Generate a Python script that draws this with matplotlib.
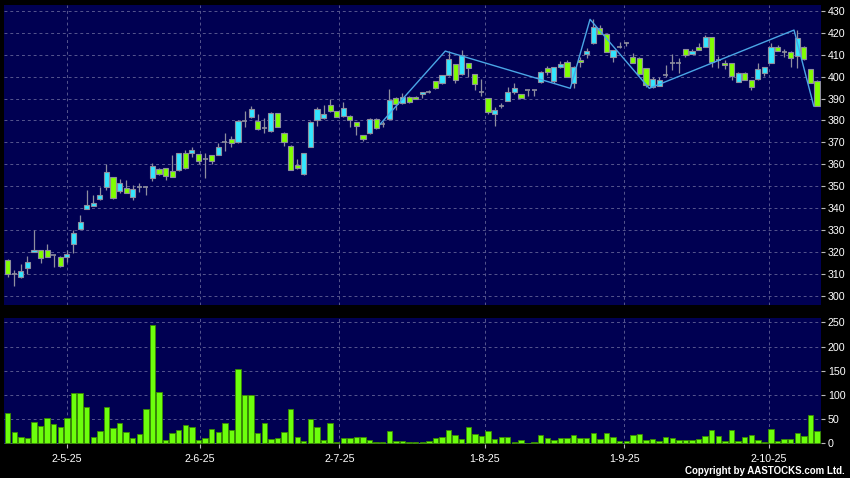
import matplotlib
matplotlib.use("Agg")
import matplotlib.pyplot as plt
import numpy as np

plt.rcParams['font.family'] = ['Liberation Sans', 'DejaVu Sans']

# ---------------- data ----------------
opens = [316.3, 309.7, 308.4, 312.8, 320.0, 320.9, 320.9, 318.4, 317.8, 317.5,
         323.4, 330.6, 339.7, 341.1, 344.3, 349.8, 354.1, 347.9, 349.4, 345.2,
         349.5, 349.5, 353.6, 357.9, 358.2, 357.1, 357.4, 365.0, 365.0, 364.6,
         362.3, 364.1, 364.4, 370.0, 371.4, 370.0, 379.9, 381.7, 379.9, 376.4,
         375.0, 383.3, 374.4, 368.5, 359.7, 355.4, 368.0, 380.2, 381.0, 386.9,
         384.2, 381.9, 382.2, 379.3, 373.2, 374.2, 380.8, 378.3, 380.5, 390.4,
         387.8, 390.9, 390.9, 392.0, 393.2, 397.9, 397.0, 400.6, 405.7, 401.2,
         406.1, 401.1, 393.2, 390.1, 382.8, 386.8, 388.9, 393.2, 392.0, 393.9,
         393.9, 397.8, 404.1, 398.2, 404.6, 406.9, 397.0, 407.5, 410.4, 415.3,
         422.1, 419.4, 409.1, 413.4, 415.2, 409.1, 408.7, 403.8, 395.4, 395.8,
         400.6, 406.1, 406.1, 412.5, 410.4, 413.4, 413.7, 418.0, 407.6, 406.1,
         406.1, 397.7, 401.8, 398.5, 398.8, 401.8, 406.4, 413.4, 411.4, 411.4,
         409.5, 413.7, 403.4, 398.2]
highs = [316.6, 311.7, 314.5, 318.1, 330.0, 321.0, 323.6, 318.6, 318.0, 320.9,
         330.0, 336.9, 348.3, 346.0, 349.8, 360.1, 354.3, 353.1, 352.8, 350.7,
         351.6, 350.0, 360.4, 358.5, 358.5, 364.2, 365.2, 366.3, 368.0, 364.8,
         365.0, 364.3, 369.9, 374.4, 372.9, 380.1, 384.3, 386.6, 383.0, 381.0,
         383.8, 383.5, 374.6, 368.7, 362.3, 365.2, 379.7, 386.0, 387.0, 389.8,
         384.4, 388.6, 382.4, 379.5, 373.4, 381.0, 381.0, 379.8, 394.2, 390.6,
         392.4, 391.1, 391.0, 393.2, 394.0, 398.1, 400.8, 411.7, 405.9, 412.2,
         406.3, 401.3, 398.8, 390.5, 386.3, 388.1, 395.2, 397.3, 392.2, 394.1,
         394.1, 402.7, 405.0, 404.5, 407.0, 407.6, 404.8, 409.1, 413.0, 426.2,
         423.6, 419.6, 412.4, 415.7, 416.0, 411.0, 408.9, 404.0, 399.7, 399.7,
         405.3, 410.4, 408.4, 412.8, 412.5, 415.5, 419.0, 418.2, 409.5, 407.6,
         406.3, 402.0, 402.0, 398.7, 406.4, 404.5, 415.2, 414.5, 412.5, 411.6,
         421.3, 413.9, 403.6, 398.4]
lows = [308.4, 304.5, 308.0, 310.0, 319.8, 314.8, 317.6, 313.0, 313.0, 315.5,
        319.7, 330.4, 339.5, 341.0, 343.8, 348.3, 344.0, 346.8, 347.0, 343.7,
        347.3, 345.8, 352.5, 355.0, 352.8, 354.0, 356.8, 358.0, 363.5, 360.0,
        353.6, 360.0, 364.2, 366.2, 368.0, 369.8, 377.2, 381.0, 375.8, 374.2,
        374.8, 377.0, 368.4, 357.2, 358.0, 355.2, 367.8, 377.5, 380.7, 384.0,
        381.5, 381.7, 377.2, 373.4, 370.8, 374.0, 376.2, 377.2, 380.3, 384.8,
        387.6, 388.1, 389.8, 390.1, 392.5, 394.5, 396.8, 400.4, 397.0, 401.0,
        399.8, 394.0, 391.0, 383.0, 377.5, 385.6, 388.7, 392.1, 390.2, 391.2,
        391.2, 397.0, 400.8, 397.3, 404.0, 399.8, 394.7, 404.6, 408.4, 415.0,
        419.3, 411.2, 406.9, 413.0, 414.0, 406.2, 400.9, 395.5, 394.7, 395.6,
        399.8, 403.0, 401.8, 409.0, 410.2, 412.0, 413.5, 404.6, 403.8, 403.5,
        398.5, 397.5, 398.3, 393.9, 398.6, 400.3, 406.2, 411.7, 408.8, 404.6,
        403.8, 407.8, 397.1, 386.4]
closes = [310.0, 309.7, 311.1, 315.2, 320.8, 317.1, 317.8, 318.4, 313.7, 318.9,
          328.6, 333.5, 341.3, 342.3, 345.8, 356.5, 344.8, 351.3, 347.1, 348.9,
          349.5, 349.5, 359.0, 355.4, 354.8, 354.4, 365.0, 358.2, 366.5, 361.7,
          362.3, 361.7, 368.0, 370.0, 369.6, 379.9, 379.9, 385.1, 376.0, 376.4,
          383.6, 377.2, 370.3, 357.4, 358.2, 365.0, 379.5, 385.1, 383.0, 384.2,
          381.7, 385.6, 380.2, 377.5, 371.7, 380.8, 376.4, 378.3, 389.3, 387.5,
          390.6, 388.3, 390.0, 393.0, 393.2, 394.7, 400.6, 408.0, 398.5, 410.0,
          404.2, 396.5, 393.2, 383.7, 384.8, 386.8, 392.9, 394.7, 390.4, 393.9,
          393.9, 402.1, 402.3, 404.3, 405.7, 400.0, 404.6, 406.9, 411.9, 422.5,
          419.5, 411.4, 412.2, 413.4, 415.2, 406.4, 401.1, 396.0, 398.8, 398.5,
          400.6, 406.1, 406.1, 409.9, 411.9, 412.2, 418.3, 406.7, 407.6, 405.2,
          400.3, 401.8, 398.5, 395.2, 403.7, 404.3, 413.7, 411.9, 411.4, 408.4,
          417.5, 408.0, 397.3, 386.6]
volumes = [62, 23, 13, 11, 43, 36, 53, 39, 34, 53,
           103, 103, 76, 14, 26, 75, 32, 41, 23, 10,
           19, 70, 244, 105, 7, 22, 27, 38, 34, 7,
           10, 30, 23, 41, 28, 154, 100, 100, 21, 42,
           8, 10, 23, 70, 13, 5, 50, 33, 7, 41,
           3, 10, 10, 12, 14, 6, 3, 2, 26, 5,
           5, 3, 3, 3, 5, 10, 14, 28, 17, 8,
           34, 19, 15, 26, 8, 13, 13, 3, 6, 1,
           3, 17, 10, 7, 10, 10, 18, 10, 11, 22,
           8, 21, 13, 5, 5, 17, 19, 7, 9, 5,
           13, 10, 6, 6, 6, 8, 16, 28, 16, 5,
           28, 4, 12, 18, 6, 2, 30, 4, 8, 8,
           21, 15, 58, 25]
zigzag_idx = [57, 67, 86, 89, 98, 120, 123]
zigzag_val = [378.0, 411.7, 394.7, 426.2, 394.7, 421.3, 386.6]
date_pos = [9, 29.2, 50.4, 72.5, 93.7, 115.7]
date_labels = ['2-5-25', '2-6-25', '2-7-25', '1-8-25', '1-9-25', '2-10-25']
price_ticks = list(range(300, 431, 10))
volume_ticks = list(range(0, 251, 50))

# ---------------- style ----------------
BG = '#000052'
GRID = '#56568e'
UP = '#33e6ff'
DOWN = '#80ff00'
WICK = '#8e8e9e'
VOL = '#6cff0c'
VOL_EDGE = '#3a8c00'
W = 6.58  # px per bar

W_PX, H_PX = 850, 478
fig = plt.figure(figsize=(W_PX / 100, H_PX / 100), dpi=100, facecolor='black')
ax1 = fig.add_axes([4 / W_PX, 1 - 305 / H_PX, 817 / W_PX, 300 / H_PX])
ax2 = fig.add_axes([4 / W_PX, 1 - 444 / H_PX, 817 / W_PX, 126 / H_PX])

o = np.array(opens); h = np.array(highs); l = np.array(lows); c = np.array(closes)
x = np.arange(len(o))

for ax in (ax1, ax2):
    ax.set_facecolor(BG)
    for s in ax.spines.values():
        s.set_visible(False)
    ax.set_xlim(-0.56, 123.6)
    ax.yaxis.tick_right()
    ax.tick_params(axis='y', colors='#bbbbbb', labelcolor='white', length=3,
                   width=0.8, labelsize=7.7, pad=2)
    ax.set_axisbelow(True)
    ax.set_xticks(date_pos)
    ax.grid(True, color=GRID, linestyle=(0, (3, 3)), linewidth=0.7)

# price panel
ax1.set_ylim(295.75, 432.74)
ax1.set_yticks(price_ticks)
ax1.tick_params(axis='x', length=0, labelbottom=False)

up = c > o
down = c < o
flat = c == o
ax1.vlines(x, l, h, color=WICK, linewidth=0.9, zorder=2)
bw = 0.78
ax1.bar(x[up], (c - o)[up], bottom=o[up], width=bw, color=UP, edgecolor=WICK,
        linewidth=0.8, zorder=3)
ax1.bar(x[down], (o - c)[down], bottom=c[down], width=bw, color=DOWN,
        edgecolor=WICK, linewidth=0.8, zorder=3)
ax1.hlines(o[flat], x[flat] - bw / 2, x[flat] + bw / 2, color=WICK,
           linewidth=1.2, zorder=3)
ax1.plot(np.array(zigzag_idx) - 0.5, zigzag_val, color='#4aa6e6',
         linewidth=1.0, zorder=4)

# volume panel
ax2.set_ylim(-1.5, 259)
ax2.set_yticks(volume_ticks)
ax2.bar(x, volumes, width=0.82, color=VOL, edgecolor=VOL_EDGE, linewidth=0.6,
        zorder=3)
ax2.set_xticklabels(date_labels)
ax2.tick_params(axis='x', colors='#bbbbbb', labelcolor='white', length=3,
                width=0.8, labelsize=7.7, pad=4)

fig.text(845 / W_PX, 1 - 471.5 / H_PX, 'Copyright by AASTOCKS.com Ltd.',
         color='white', fontsize=7, fontweight='bold', ha='right', va='center')

fig.savefig('out.png', dpi=100, facecolor='black')
